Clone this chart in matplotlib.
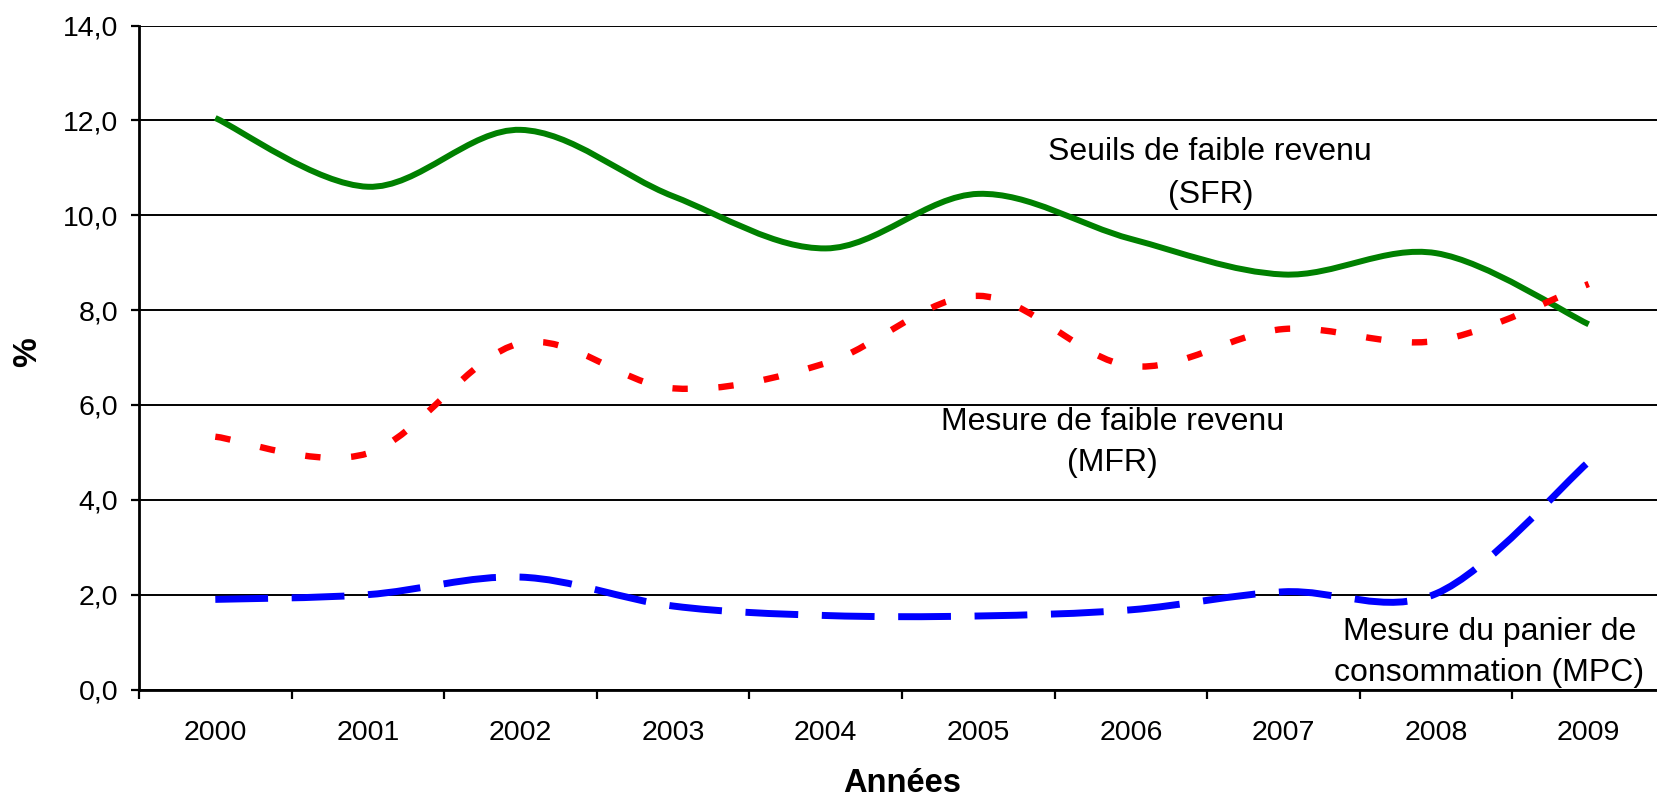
import matplotlib
matplotlib.use("Agg")
import matplotlib.pyplot as plt
import numpy as np
from matplotlib.patches import PathPatch
from matplotlib.path import Path

plt.rcParams["font.family"] = ["Liberation Sans", "DejaVu Sans"]

years = ["2000", "2001", "2002", "2003", "2004", "2005", "2006", "2007", "2008", "2009"]
sfr = [12.05, 10.6, 11.8, 10.4, 9.3, 10.45, 9.5, 8.75, 9.2, 7.7]
mfr = [5.33, 4.98, 7.3, 6.35, 6.88, 8.3, 6.82, 7.6, 7.35, 8.55]
mpc = [1.9, 2.0, 2.37, 1.76, 1.56, 1.55, 1.68, 2.06, 2.02, 4.8]
yticks = [0, 2, 4, 6, 8, 10, 12, 14]


def smooth_path(xs, ys):
    # Excel-style smoothed line: cubic Bezier through each point (Catmull-Rom tangents)
    pts = np.column_stack([xs, ys]).astype(float)
    prev = np.vstack([pts[:1], pts[:-1]])
    nxt = np.vstack([pts[1:], pts[-1:]])
    tang = (nxt - prev) / 6.0
    verts = [pts[0]]
    codes = [Path.MOVETO]
    for i in range(len(pts) - 1):
        verts += [pts[i] + tang[i], pts[i + 1] - tang[i + 1], pts[i + 1]]
        codes += [Path.CURVE4] * 3
    return Path(verts, codes)


def main() -> None:
    fig = plt.figure(figsize=(16.57, 7.99), dpi=100)
    ax = fig.add_axes([139 / 1657, 1 - 689.5 / 799, 1526 / 1657, 664 / 799])

    x = np.arange(len(years))
    styles = [
        (sfr, "#008000", "-", 4.3),
        (mfr, "#ff0000", (0, (2.4, 4.8)), 4.6),
        (mpc, "#0000ff", (0, (7.6, 3.4)), 5.0),
    ]
    for vals, col, ls, lw in styles:
        patch = PathPatch(smooth_path(x, vals), fill=False, edgecolor=col,
                          lw=lw, linestyle=ls, capstyle="butt", joinstyle="round", zorder=3)
        ax.add_patch(patch)

    ax.set_xlim(-0.5, len(years) - 0.5)
    ax.set_ylim(0, 14)

    ax.set_xticks(np.arange(len(years) + 1) - 0.5)
    ax.set_xticklabels([])
    ax.set_xticks(x, minor=True)
    ax.set_xticklabels(years, minor=True, fontsize=20.5)
    ax.tick_params(axis="x", which="major", direction="out", length=6.5, width=1.6)
    ax.tick_params(axis="x", which="minor", length=0, pad=22)

    ax.set_yticks(yticks)
    ax.set_yticklabels([f"{v:.1f}".replace(".", ",") for v in yticks], fontsize=20.5)
    ax.tick_params(axis="y", direction="out", length=6, width=1.6, pad=9)

    ax.yaxis.grid(True, color="black", lw=1.4)
    ax.set_axisbelow(True)
    for side in ("top", "right"):
        ax.spines[side].set_visible(False)
    for side in ("left", "bottom"):
        ax.spines[side].set_linewidth(2.0)
        ax.spines[side].set_zorder(4)

    fs = 23
    ax.text(6.52, 11.33, "Seuils de faible revenu", ha="center", va="center", fontsize=fs)
    ax.text(6.52, 10.43, "(SFR)", ha="center", va="center", fontsize=fs)
    ax.text(5.88, 5.64, "Mesure de faible revenu", ha="center", va="center", fontsize=fs)
    ax.text(5.88, 4.78, "(MFR)", ha="center", va="center", fontsize=fs)
    ax.text(8.35, 1.21, "Mesure du panier de", ha="center", va="center", fontsize=fs, clip_on=False)
    ax.text(8.35, 0.35, "consommation (MPC)", ha="center", va="center", fontsize=fs, clip_on=False)

    fig.text(28 / 1657, 1 - 352 / 799, "%", rotation=90, ha="center", va="center",
             fontsize=24, fontweight="bold")
    fig.text(902 / 1657, 1 - 784 / 799, "Années", ha="center", va="center",
             fontsize=23.5, fontweight="bold")

    fig.savefig("out.png", dpi=100)
    plt.close(fig)


if __name__ == "__main__":
    main()
